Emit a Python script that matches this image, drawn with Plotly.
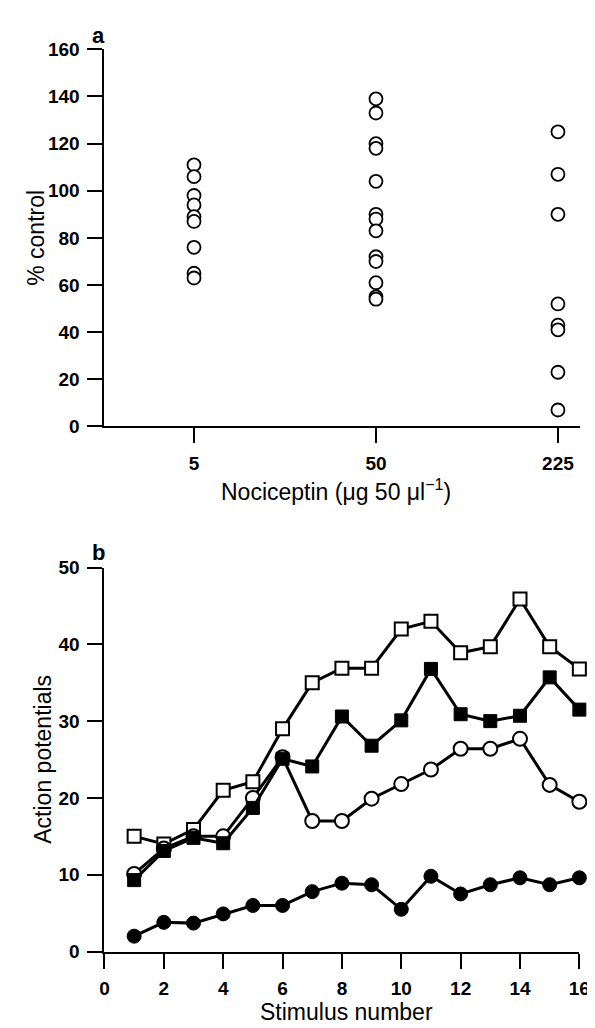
import plotly.graph_objects as go

# ---------------- Panel a data ----------------
dose_labels = ["5", "50", "225"]
pct_5 = [111, 106, 98, 94, 89, 87, 76, 65, 63]
pct_50 = [139, 133, 120, 118, 104, 90, 88, 83, 72, 70, 61, 55, 54]
pct_225 = [125, 107, 90, 52, 43, 41, 23, 7]
pct_ticks = [0, 20, 40, 60, 80, 100, 120, 140, 160]

# ---------------- Panel b data ----------------
stimulus = list(range(1, 17))
open_squares = [15.0, 14.0, 15.9, 21.0, 22.1, 29.0, 35.0, 36.9, 36.9, 42.0, 43.0, 38.9, 39.7, 45.9, 39.7, 36.8]
filled_squares = [9.3, 13.1, 14.8, 14.1, 18.7, 25.1, 24.1, 30.6, 26.8, 30.1, 36.8, 30.9, 30.0, 30.7, 35.7, 31.5]
open_circles = [10.1, 13.4, 15.0, 15.0, 20.0, 25.3, 17.0, 17.0, 19.9, 21.8, 23.7, 26.4, 26.4, 27.7, 21.7, 19.5]
filled_circles = [2.0, 3.8, 3.7, 4.9, 6.0, 6.0, 7.8, 8.9, 8.7, 5.5, 9.8, 7.5, 8.7, 9.6, 8.7, 9.6]
ap_ticks = [0, 10, 20, 30, 40, 50]
stim_ticks = [0, 2, 4, 6, 8, 10, 12, 14, 16]

W, H = 595, 1028
FONT = "Liberation Sans"


def px_x(p):
    return p / W


def px_y(p):
    return 1 - p / H


fig = go.Figure()

# Panel a scatter
for i, vals in enumerate([pct_5, pct_50, pct_225]):
    fig.add_trace(go.Scatter(
        x=[i] * len(vals), y=vals, mode="markers",
        marker=dict(symbol="circle", size=13, color="white",
                    line=dict(color="black", width=1.8)),
        xaxis="x", yaxis="y", showlegend=False, cliponaxis=False))

# Panel b series
line_w = 3
fig.add_trace(go.Scatter(
    x=stimulus, y=open_squares, mode="lines+markers",
    line=dict(color="black", width=line_w),
    marker=dict(symbol="square", size=13, color="white",
                line=dict(color="black", width=2)),
    xaxis="x2", yaxis="y2", showlegend=False, cliponaxis=False))
fig.add_trace(go.Scatter(
    x=stimulus, y=open_circles, mode="lines+markers",
    line=dict(color="black", width=line_w),
    marker=dict(symbol="circle", size=14, color="white",
                line=dict(color="black", width=2)),
    xaxis="x2", yaxis="y2", showlegend=False, cliponaxis=False))
fig.add_trace(go.Scatter(
    x=stimulus, y=filled_squares, mode="lines+markers",
    line=dict(color="black", width=line_w),
    marker=dict(symbol="square", size=13, color="black",
                line=dict(color="black", width=1)),
    xaxis="x2", yaxis="y2", showlegend=False, cliponaxis=False))
fig.add_trace(go.Scatter(
    x=stimulus, y=filled_circles, mode="lines+markers",
    line=dict(color="black", width=line_w),
    marker=dict(symbol="circle", size=14, color="black",
                line=dict(color="black", width=1)),
    xaxis="x2", yaxis="y2", showlegend=False, cliponaxis=False))

tickfont = dict(family=FONT, size=19, color="black", weight="bold")
axis_common = dict(showline=True, linecolor="black", linewidth=2,
                   ticks="outside", ticklen=15, tickwidth=2, tickcolor="black",
                   showgrid=False, zeroline=False, tickfont=tickfont)

fig.update_layout(
    width=W, height=H,
    margin=dict(l=0, r=0, t=0, b=0),
    paper_bgcolor="white", plot_bgcolor="white",
    xaxis=dict(domain=[px_x(94), px_x(583)], range=[-0.492, 2.123],
               tickmode="array", tickvals=[0, 1, 2], ticktext=dose_labels,
               anchor="y", ticklabelstandoff=4, **axis_common),
    yaxis=dict(domain=[px_y(417), px_y(32)], range=[0, 160],
               tickmode="array", tickvals=pct_ticks,
               anchor="x", ticklabelstandoff=4, **axis_common),
    xaxis2=dict(domain=[px_x(94), px_x(582)], range=[0, 16],
                tickmode="array", tickvals=stim_ticks,
                anchor="y2", ticklabelstandoff=4, **axis_common),
    yaxis2=dict(domain=[px_y(953), px_y(561)], range=[0, 50],
                tickmode="array", tickvals=ap_ticks,
                anchor="x2", ticklabelstandoff=4, **axis_common),
)

title_font = dict(family=FONT, size=23, color="black")
annotations = [
    dict(text="% control", x=px_x(24), y=px_y(224), textangle=-90, font=title_font),
    dict(text="Nociceptin (μg 50 μl<sup>−1</sup>)", x=px_x(332), y=px_y(482), font=title_font),
    dict(text="Action potentials", x=px_x(30), y=px_y(757), textangle=-90, font=title_font),
    dict(text="Stimulus number", x=px_x(343), y=px_y(1015), font=title_font),
    dict(text="<b>a</b>", x=px_x(88), y=px_y(18), font=dict(family=FONT, size=22, color="black")),
    dict(text="<b>b</b>", x=px_x(88), y=px_y(546), font=dict(family=FONT, size=22, color="black")),
]
for a in annotations:
    a.update(xref="paper", yref="paper", showarrow=False, xanchor="center", yanchor="middle")
fig.update_layout(annotations=annotations)

fig.write_html("out.html")
